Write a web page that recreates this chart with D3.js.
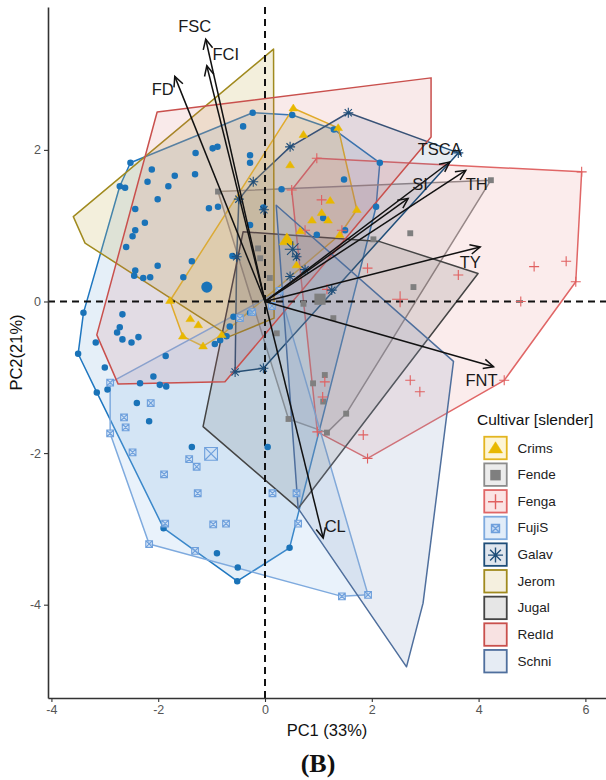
<!DOCTYPE html>
<html>
<head>
<meta charset="utf-8">
<script src="https://cdn.jsdelivr.net/npm/d3@7"></script>
<style>
  body { margin: 0; background: #fff; }
  svg { display: block; font-family: "Liberation Sans", Arial, sans-serif; }
</style>
</head>
<body>
<svg id="chart" width="606" height="780"></svg>
<script>
// ---- PCA scores (PC1, PC2) per cultivar ----
const cultivars = ["Crims", "Fende", "Fenga", "FujiS", "Galav", "Jerom", "Jugal", "RedId", "Schni"];

const crimsPts = [[0.53,2.55],[1.37,2.29],[1.72,1.21],[0.72,2.20],[0.47,1.80],[1.22,1.33],[1.06,1.17],[0.88,1.07],[1.18,1.07],[0.66,0.93],[1.40,0.88],[0.59,0.48],[-1.40,-0.23],[-1.25,-0.31],[-1.54,-0.46],[-1.16,-0.59],[-0.81,-0.44],[-1.78,0.01]];
const fendePts = [[-0.88,1.45],[4.23,1.60],[2.72,0.90],[2.03,0.82],[2.78,0.19],[1.28,-0.22],[0.72,-0.03],[1.12,-0.97],[0.90,-1.08],[1.09,-1.32],[1.52,-1.48],[1.16,-1.73],[0.44,-1.55],[-0.09,0.57],[0.09,0.31],[0.22,-0.42],[-0.13,0.70]];
const fengaPts = [[0.97,1.89],[5.93,1.71],[5.82,0.26],[5.04,0.46],[5.64,0.53],[3.62,0.35],[4.79,0.00],[1.92,0.44],[2.72,-1.04],[2.90,-1.19],[4.48,-1.04],[1.84,-1.76],[1.92,-2.07],[1.12,-1.06],[1.08,-1.26],[1.06,1.34],[0.75,0.94],[1.44,0.94],[0.98,-1.72],[0.50,1.47],[1.16,0.16]];
const fujiPts = [[-2.90,-1.07],[-2.90,-1.74],[-2.14,-1.34],[-2.64,-1.53],[-2.61,-1.66],[-2.48,-1.99],[-1.42,-2.08],[-1.28,-2.18],[-1.89,-2.28],[-1.26,-2.53],[-1.87,-2.93],[-0.97,-2.94],[-0.73,-2.93],[-2.17,-3.20],[-1.31,-3.29],[0.14,-2.53],[0.59,-2.53],[0.62,-2.93],[1.44,-3.89],[1.93,-3.87],[-0.47,-0.22],[-0.24,-0.14],[0.13,-0.06],[0.27,0.14]];
const galavPts = [[1.56,2.49],[3.62,1.96],[0.47,2.04],[-0.22,1.58],[-0.49,1.35],[-0.02,1.21],[1.25,0.15],[0.59,0.59],[0.47,0.33],[0.75,0.42],[-0.03,-0.88],[-0.56,-0.93],[-0.53,0.59]];
const slenderPts = [[-0.23,2.49],[0.51,2.46],[1.29,2.27],[2.15,1.83],[2.08,1.25],[-0.41,2.31],[-1.30,1.96],[-0.98,2.02],[-0.89,2.04],[-0.28,1.93],[-0.28,1.83],[-2.52,1.83],[-2.12,1.74],[-1.69,1.66],[-1.31,1.68],[-2.20,1.58],[-1.81,1.52],[-2.72,1.52],[-2.62,1.50],[-2.01,1.35],[-2.43,1.22],[-1.05,1.23],[-0.88,1.25],[-2.25,1.04],[-2.43,0.94],[-2.48,0.86],[-2.60,0.72],[-0.28,1.01],[-0.61,0.60],[-1.37,0.53],[-2.01,0.47],[-2.43,0.41],[-2.45,0.34],[-2.28,0.31],[-2.15,0.32],[-1.53,0.32],[-3.40,-0.15],[-2.67,-0.17],[-2.72,-0.34],[-2.77,-0.41],[-2.67,-0.50],[-2.50,-0.54],[-2.37,-0.47],[-3.17,-0.54],[-3.50,-0.69],[-1.86,-0.72],[-3.00,-0.87],[-2.09,-0.99],[-2.34,-1.08],[-1.97,-1.10],[-1.85,-1.12],[-2.95,-1.16],[-3.15,-1.20],[-2.40,-1.34],[-2.17,-1.58],[-1.37,-1.92],[0.05,-1.92],[-0.90,-3.32],[-0.51,-3.51],[-0.52,-3.69],[0.46,-3.25],[-1.90,-2.99],[0.31,1.48],[1.48,1.61],[1.09,1.10],[0.97,0.88],[1.50,0.94],[-0.03,1.24],[-0.94,-0.56],[-0.84,-0.51],[-0.72,-0.46],[-0.66,-0.33],[-0.59,-0.20],[-0.28,-0.15]];

// group means (larger symbols)
const centroids = [["slender",-1.09,0.19],["Crims",0.41,0.81],["Fende",1.03,0.03],["Fenga",2.53,0.03],["FujiS",-1.01,-2.01],["Galav",0.52,0.69]];

// hull outlines for cultivars drawn without individual scores
const jeromHull = [[0.16,3.33],[0.17,-0.22],[-0.66,-0.46],[-3.37,0.77],[-3.59,1.12]];
const jugalHull = [[-0.41,0.92],[2.15,0.79],[3.99,0.37],[0.62,-2.73],[-1.16,-1.65]];
const redIdHull = [[-2.02,2.50],[3.11,2.95],[3.11,2.17],[-0.75,-1.06],[-2.75,-1.09],[-3.15,-0.44]];
const schniHull = [[0.21,1.27],[3.53,-0.79],[2.96,-3.98],[2.65,-4.82],[0.62,-2.73]];

// variable loadings (arrow tips)
const loadingNames = ["FSC","FCI","FD","TSCA","SI","TH","TY","FNT","CL"];
const loadingPC1 = [-1.11,-1.09,-1.69,3.46,2.68,3.76,4.03,4.28,1.09];
const loadingPC2 = [3.46,3.11,2.97,1.84,1.36,1.73,0.72,-0.86,-3.12];

const xTicks = [-4,-2,0,2,4,6];
const yTicks = [-4,-2,0,2];

// ---- styling ----
const style = {
  slender: {stroke:"#1f77c0", fill:"#5b9bd5", fo:0.16},
  Crims:   {stroke:"#e3b520", fill:"#f2c81a", fo:0.16},
  Fende:   {stroke:"#8c8c8c", fill:"#8f8f8f", fo:0.14},
  Fenga:   {stroke:"#e06666", fill:"#e07070", fo:0.13},
  FujiS:   {stroke:"#7eaade", fill:"#9cc3ee", fo:0.22},
  Galav:   {stroke:"#1f4e79", fill:"#2e5e8e", fo:0.12},
  Jerom:   {stroke:"#a08a1e", fill:"#c8b560", fo:0.22},
  Jugal:   {stroke:"#444444", fill:"#555555", fo:0.15},
  RedId:   {stroke:"#c9504d", fill:"#d46a6a", fo:0.14},
  Schni:   {stroke:"#4f6f9d", fill:"#8fa6c8", fo:0.20}
};
const markerColor = {slender:"#1a73b8", Crims:"#e8b800", Fende:"#7f7f7f", Fenga:"#e06060", FujiS:"#6fa0dc", Galav:"#1f4e79"};

const svg = d3.select("#chart");
const X = d3.scaleLinear().domain([-4.064, 6.386]).range([48, 606]);
const Y = d3.scaleLinear().domain([-5.231, 3.885]).range([698, 7]);

const toPx = pts => pts.map(p => [X(p[0]), Y(p[1])]);

// ---- hulls ----
const hullLayer = svg.append("g");
const hulls = [
  ["slender", d3.polygonHull(toPx(slenderPts))],
  ["Crims", d3.polygonHull(toPx(crimsPts))],
  ["Fende", d3.polygonHull(toPx(fendePts))],
  ["Fenga", d3.polygonHull(toPx(fengaPts))],
  ["FujiS", d3.polygonHull(toPx(fujiPts))],
  ["Galav", d3.polygonHull(toPx(galavPts))],
  ["Jerom", toPx(jeromHull)],
  ["Jugal", toPx(jugalHull)],
  ["RedId", toPx(redIdHull)],
  ["Schni", toPx(schniHull)]
];
hullLayer.selectAll("path").data(hulls).join("path")
  .attr("d", d => "M" + d[1].join("L") + "Z")
  .attr("fill", d => style[d[0]].fill)
  .attr("fill-opacity", d => style[d[0]].fo)
  .attr("stroke", d => style[d[0]].stroke)
  .attr("stroke-width", 1.5)
  .attr("stroke-linejoin", "round");

// ---- reference lines ----
svg.append("line").attr("x1", X(0)).attr("x2", X(0)).attr("y1", Y.range()[1]).attr("y2", Y.range()[0])
  .attr("stroke", "#111").attr("stroke-width", 2).attr("stroke-dasharray", "7,5");
svg.append("line").attr("x1", X.range()[0]).attr("x2", X.range()[1]).attr("y1", Y(0)).attr("y2", Y(0))
  .attr("stroke", "#111").attr("stroke-width", 2).attr("stroke-dasharray", "7,5");

// ---- marker shapes ----
function markerPath(kind, s) {
  if (kind === "Crims") { // filled triangle
    const h = s * 0.9;
    return `M0,${-h}L${h*1.05},${h*0.65}L${-h*1.05},${h*0.65}Z`;
  }
  if (kind === "Fende") return `M${-s*0.7},${-s*0.7}H${s*0.7}V${s*0.7}H${-s*0.7}Z`;
  if (kind === "Fenga") return `M${-s},0H${s}M0,${-s}V${s}`;
  if (kind === "FujiS") {
    const a = s * 0.8;
    return `M${-a},${-a}H${a}V${a}H${-a}ZM${-a},${-a}L${a},${a}M${a},${-a}L${-a},${a}`;
  }
  if (kind === "Galav") {
    const d = s * 0.72;
    return `M${-s},0H${s}M0,${-s}V${s}M${-d},${-d}L${d},${d}M${d},${-d}L${-d},${d}`;
  }
  return d3.symbol(d3.symbolCircle, Math.PI * s * s * 0.55)();
}
const filled = {slender:true, Crims:true, Fende:true, Fenga:false, FujiS:false, Galav:false};
function drawMarkers(g, kind, pts, s) {
  g.selectAll(null).data(pts).join("path")
    .attr("transform", p => `translate(${X(p[0])},${Y(p[1])})`)
    .attr("d", markerPath(kind, s))
    .attr("fill", filled[kind] ? markerColor[kind] : (kind === "FujiS" ? "#c9ddf5" : "none"))
    .attr("fill-opacity", kind === "FujiS" ? 0.6 : 1)
    .attr("stroke", filled[kind] && kind !== "Crims" ? "none" : markerColor[kind])
    .attr("stroke-width", kind === "Crims" ? 0.5 : 1.1);
}
const pointLayer = svg.append("g");
drawMarkers(pointLayer, "slender", slenderPts, 4.4);
drawMarkers(pointLayer, "FujiS", fujiPts, 4.2);
drawMarkers(pointLayer, "Fende", fendePts, 4.2);
drawMarkers(pointLayer, "Fenga", fengaPts, 5);
drawMarkers(pointLayer, "Galav", galavPts, 5);
drawMarkers(pointLayer, "Crims", crimsPts, 4.6);
centroids.forEach(c => drawMarkers(pointLayer, c[0], [[c[1], c[2]]], c[0] === "slender" ? 7.5 : 8));

// ---- loading arrows ----
const labelNudge = {FSC:[-11,-13], FCI:[19,-12], FD:[-12,13], TSCA:[-10,-13], SI:[12,-14], TH:[11,14], TY:[-10,15], FNT:[-12,13], CL:[12,-12]};
const arrowLayer = svg.append("g");
loadingNames.forEach((name, i) => {
  const x1 = X(0), y1 = Y(0), x2 = X(loadingPC1[i]), y2 = Y(loadingPC2[i]);
  const ang = Math.atan2(y2 - y1, x2 - x1);
  const L = 11, spread = 0.45;
  arrowLayer.append("line").attr("x1", x1).attr("y1", y1).attr("x2", x2).attr("y2", y2)
    .attr("stroke", "#111").attr("stroke-width", 1.5);
  const hx1 = x2 - L * Math.cos(ang - spread), hy1 = y2 - L * Math.sin(ang - spread);
  const hx2 = x2 - L * Math.cos(ang + spread), hy2 = y2 - L * Math.sin(ang + spread);
  arrowLayer.append("path").attr("d", `M${hx1},${hy1}L${x2},${y2}L${hx2},${hy2}`)
    .attr("fill", "none").attr("stroke", "#111").attr("stroke-width", 1.5);
  const nd = labelNudge[name];
  arrowLayer.append("text").attr("x", x2 + nd[0]).attr("y", y2 + nd[1])
    .attr("text-anchor", "middle").attr("dominant-baseline", "central")
    .attr("font-size", 16.5).attr("fill", "#1a1a1a").text(name);
});

// ---- axes ----
const xAxis = svg.append("g").attr("transform", `translate(0,${Y.range()[0]})`)
  .call(d3.axisBottom(X).tickValues(xTicks).tickSize(4).tickSizeOuter(0).tickPadding(3).tickFormat(d3.format("d")));
const yAxis = svg.append("g").attr("transform", `translate(${X.range()[0]},0)`)
  .call(d3.axisLeft(Y).tickValues(yTicks).tickSize(4).tickSizeOuter(0).tickPadding(3).tickFormat(d3.format("d")));
[xAxis, yAxis].forEach(a => {
  a.select(".domain").attr("stroke", "#333").attr("stroke-width", 1.6);
  a.selectAll(".tick line").attr("stroke", "#333").attr("stroke-width", 1.1);
  a.selectAll(".tick text").attr("fill", "#555").attr("font-size", 12.5)
    .attr("font-family", "Liberation Sans, Arial, sans-serif")
    .text(d => d < 0 ? "-" + Math.abs(d) : d);
});

svg.append("text").attr("x", (X.range()[0] + X.range()[1]) / 2).attr("y", 736)
  .attr("text-anchor", "middle").attr("font-size", 16.5).attr("fill", "#111").text("PC1 (33%)");
svg.append("text").attr("transform", `translate(22,${(Y.range()[0] + Y.range()[1]) / 2}) rotate(-90)`)
  .attr("text-anchor", "middle").attr("font-size", 16.5).attr("fill", "#111").text("PC2(21%)");
svg.append("text").attr("x", 318).attr("y", 772).attr("text-anchor", "middle")
  .attr("font-family", "Liberation Serif, Times New Roman, serif").attr("font-weight", "bold")
  .attr("font-size", 26).attr("fill", "#111").text("(B)");

// ---- legend ----
const keyFill = {Crims:"#fdf5d6", Fende:"#ececec", Fenga:"#fbe4e4", FujiS:"#e2edf9", Galav:"#e0e6ee", Jerom:"#f5f0df", Jugal:"#e6e6e6", RedId:"#f8e2e2", Schni:"#e6ecf4"};
const legend = svg.append("g").attr("transform", "translate(477,0)");
legend.append("text").attr("x", 0).attr("y", 425).attr("font-size", 15.5).attr("fill", "#111").text("Cultivar [slender]");
const keys = legend.selectAll("g.key").data(cultivars).join("g").attr("class", "key")
  .attr("transform", (d, i) => `translate(6.5,${436 + i * 26.65})`);
keys.append("rect").attr("x", 0.75).attr("y", 0.75).attr("width", 22.5).attr("height", 22.5)
  .attr("fill", d => keyFill[d]).attr("stroke", d => style[d].stroke).attr("stroke-width", 1.8);
keys.filter(d => markerColor[d]).append("path")
  .attr("transform", "translate(12,12.5)")
  .attr("d", d => markerPath(d, d === "Crims" ? 7.5 : d === "FujiS" ? 5 : 7.5))
  .attr("fill", d => filled[d] ? markerColor[d] : (d === "FujiS" ? "#c9ddf5" : "none"))
  .attr("stroke", d => (filled[d] && d !== "Crims") ? "none" : markerColor[d])
  .attr("stroke-width", d => d === "Crims" ? 0.5 : 1.4);
keys.append("text").attr("x", 34).attr("y", 12).attr("dominant-baseline", "central")
  .attr("font-size", 13.5).attr("fill", "#222").text(d => d);
</script>
</body>
</html>
